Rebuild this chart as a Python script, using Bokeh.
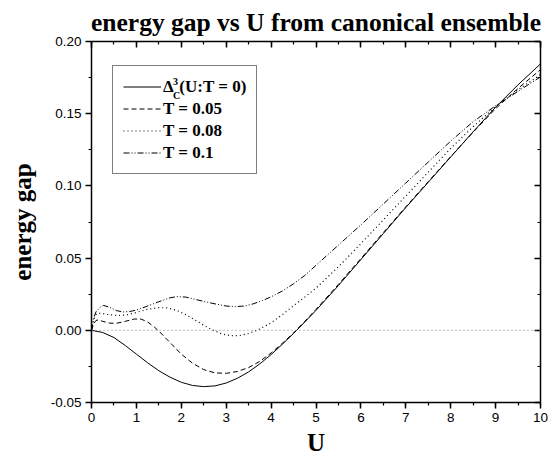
from bokeh.plotting import figure
from bokeh.models import (LinearAxis, SingleIntervalTicker, PrintfTickFormatter,
                          Legend, LegendItem, Label, Span)
from bokeh.embed import file_html
from bokeh.resources import INLINE

# ---- data ----
U_T0 = [0, 0.25, 0.5, 0.75, 1.0, 1.25, 1.5, 1.75, 2.0, 2.25, 2.5, 2.75, 3.0, 3.25, 3.5,
        3.75, 4.0, 4.25, 4.5, 4.75, 5.0, 5.5, 6.0, 6.5, 7.0, 7.5, 8.0, 8.5, 9.0, 9.5, 10.0]
GAP_T0 = [0, -0.0015, -0.005, -0.0105, -0.0165, -0.0225, -0.028, -0.0325, -0.036, -0.0382,
          -0.039, -0.0385, -0.0365, -0.0332, -0.0288, -0.0232, -0.0168, -0.0097, -0.0022,
          0.0057, 0.0138, 0.031, 0.049, 0.067, 0.085, 0.1025, 0.12, 0.1375, 0.1545, 0.170, 0.1845]

U_T005 = [0, 0.05, 0.1, 0.15, 0.25, 0.4, 0.55, 0.75, 0.95, 1.1, 1.25, 1.4, 1.5, 1.75, 2.0,
          2.25, 2.5, 2.75, 3.0, 3.25, 3.5, 3.75, 4.0, 4.25, 4.5, 4.75, 5.0, 5.5, 6.0, 6.5,
          7.0, 7.5, 8.0, 8.5, 9.0, 9.5, 10.0]
GAP_T005 = [0, 0.0045, 0.0068, 0.0072, 0.0062, 0.0050, 0.0048, 0.0062, 0.0078, 0.0078,
            0.0058, 0.0022, -0.0005, -0.0085, -0.0165, -0.0228, -0.0272, -0.0295, -0.0298,
            -0.0285, -0.0258, -0.0215, -0.0157, -0.0090, -0.0018, 0.0062, 0.0145, 0.0318,
            0.0497, 0.0677, 0.0855, 0.1030, 0.1203, 0.1372, 0.1535, 0.1675, 0.1805]

U_T008 = [0, 0.05, 0.1, 0.15, 0.25, 0.4, 0.6, 0.8, 1.0, 1.25, 1.5, 1.7, 1.9, 2.1, 2.3, 2.5,
          2.7, 2.9, 3.1, 3.3, 3.5, 3.7, 4.0, 4.25, 4.5, 4.75, 5.0, 5.5, 6.0, 6.5, 7.0, 7.5,
          8.0, 8.5, 9.0, 9.5, 10.0]
GAP_T008 = [0, 0.0075, 0.0108, 0.0118, 0.0116, 0.0108, 0.0102, 0.0108, 0.0124, 0.0145,
            0.0157, 0.0155, 0.0138, 0.0108, 0.0072, 0.0035, 0.0002, -0.0025, -0.0038,
            -0.0036, -0.0022, 0.0002, 0.0052, 0.0108, 0.0170, 0.0230, 0.0292, 0.0440,
            0.0600, 0.0765, 0.0930, 0.1095, 0.1260, 0.1410, 0.1550, 0.1665, 0.1770]

U_T01 = [0, 0.05, 0.1, 0.2, 0.27, 0.4, 0.55, 0.7, 0.85, 1.0, 1.25, 1.5, 1.75, 1.9, 2.1, 2.3,
         2.5, 2.75, 3.0, 3.2, 3.4, 3.6, 3.8, 4.0, 4.25, 4.5, 4.75, 5.0, 5.5, 6.0, 6.5, 7.0,
         7.5, 8.0, 8.5, 9.0, 9.5, 10.0]
GAP_T01 = [0, 0.0085, 0.0128, 0.0162, 0.0172, 0.0160, 0.0137, 0.0127, 0.0130, 0.0140,
           0.0168, 0.0198, 0.0225, 0.0233, 0.0230, 0.0215, 0.0200, 0.0183, 0.0168, 0.0164,
           0.0168, 0.0183, 0.0205, 0.0232, 0.0272, 0.0322, 0.0380, 0.0450, 0.0590, 0.0730,
           0.0875, 0.1020, 0.1165, 0.1310, 0.1445, 0.1555, 0.1655, 0.1755]

LABELS = ["\u0394\u2004(U:T = 0)", "T = 0.05", "T = 0.08", "T = 0.1"]
SUPERSCRIPT = "3"
SUBSCRIPT = "C"
X_TICKS_INTERVAL = 1
Y_TICKS_INTERVAL = 0.05

SERIF = "Liberation Serif"
SANS = "Liberation Sans"

p = figure(width=557, height=458, x_range=(0, 10), y_range=(-0.05, 0.20),
           output_backend="svg", toolbar_location=None,
           min_border_left=91, min_border_right=17, min_border_top=41, min_border_bottom=56,
           x_axis_label="U", y_axis_label="energy gap",
           title="energy gap vs U from canonical ensemble")
p.grid.visible = False
p.outline_line_color = None
p.background_fill_color = "white"
p.border_fill_color = "white"

p.title.text_font = SERIF
p.title.text_font_style = "bold"
p.title.text_font_size = "25.5px"
p.title.align = "center"
p.title.text_color = "black"

def style_axis(ax, ticker, formatter=None, inside=False, labels=True):
    ax.ticker = ticker
    if formatter is not None:
        ax.formatter = formatter
    ax.axis_line_color = "black"
    ax.axis_line_width = 1.5
    ax.major_tick_line_color = "black"
    ax.minor_tick_line_color = "black"
    ax.major_tick_line_width = 1.5
    ax.minor_tick_line_width = 1.2
    if inside:
        ax.major_tick_in, ax.major_tick_out = 6, 0
        ax.minor_tick_in, ax.minor_tick_out = 3, 0
    else:
        ax.major_tick_in, ax.major_tick_out = 0, 6
        ax.minor_tick_in, ax.minor_tick_out = 0, 3
    if labels:
        ax.major_label_text_font = SANS
        ax.major_label_text_font_size = "13.5px"
        ax.major_label_text_color = "black"
        ax.major_label_standoff = 4
    else:
        ax.major_label_text_font_size = "0px"
        ax.major_label_standoff = 0

xt = SingleIntervalTicker(interval=X_TICKS_INTERVAL, num_minor_ticks=2)
yt = SingleIntervalTicker(interval=Y_TICKS_INTERVAL, num_minor_ticks=2)
yfmt = PrintfTickFormatter(format="%.2f")

style_axis(p.xaxis[0], xt)
style_axis(p.yaxis[0], yt, yfmt)
for ax in (p.xaxis[0], p.yaxis[0]):
    ax.axis_label_text_font = SERIF
    ax.axis_label_text_font_style = "bold"
    ax.axis_label_text_font_size = "25px"
    ax.axis_label_text_color = "black"
p.xaxis[0].axis_label_standoff = 4
p.yaxis[0].axis_label_standoff = 12

top = LinearAxis()
style_axis(top, SingleIntervalTicker(interval=X_TICKS_INTERVAL, num_minor_ticks=2),
           inside=True, labels=False)
right = LinearAxis()
style_axis(right, SingleIntervalTicker(interval=Y_TICKS_INTERVAL, num_minor_ticks=2),
           inside=True, labels=False)
p.add_layout(top, "above")
p.add_layout(right, "right")

p.add_layout(Span(location=0, dimension="width", line_color="#808080",
                  line_width=1, line_dash="1 3"))

r0 = p.line(U_T0, GAP_T0, line_color="black", line_width=1)
r1 = p.line(U_T005, GAP_T005, line_color="black", line_width=1, line_dash="5 3")
r2 = p.line(U_T008, GAP_T008, line_color="black", line_width=1.2, line_dash="1 3")
r3 = p.line(U_T01, GAP_T01, line_color="black", line_width=1, line_dash="6 2 1 2 1 2")

legend = Legend(items=[LegendItem(label=LABELS[0], renderers=[r0]),
                       LegendItem(label=LABELS[1], renderers=[r1]),
                       LegendItem(label=LABELS[2], renderers=[r2]),
                       LegendItem(label=LABELS[3], renderers=[r3])],
                location=(21, 228), margin=0, padding=10, spacing=1,
                glyph_width=38, glyph_height=21, label_height=21, label_standoff=2,
                label_text_font=SERIF, label_text_font_style="bold",
                label_text_font_size="17px", label_text_color="black",
                border_line_color="black", border_line_width=1,
                background_fill_color="white", background_fill_alpha=0)
p.add_layout(legend)

# superscript / subscript of the first legend label (placed in data units)
sup = Label(x=1.815, y=0.1725, text=SUPERSCRIPT,
            text_font=SERIF, text_font_style="bold", text_font_size="10px",
            text_baseline="middle", text_align="left", text_color="black")
sub = Label(x=1.815, y=0.1628, text=SUBSCRIPT,
            text_font=SERIF, text_font_style="bold", text_font_size="10px",
            text_baseline="middle", text_align="left", text_color="black")
p.add_layout(sup)
p.add_layout(sub)

open("out.html", "w").write(file_html(p, INLINE))
